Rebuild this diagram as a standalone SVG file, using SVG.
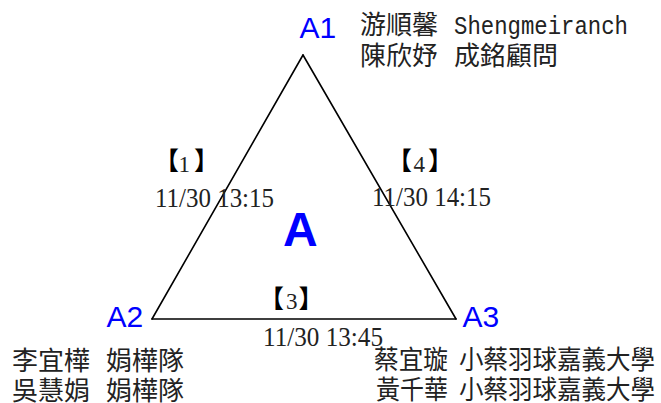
<svg xmlns="http://www.w3.org/2000/svg" width="661" height="403" viewBox="0 0 661 403">
<style>
.lbl{font-family:"Liberation Sans",Arial,sans-serif;font-size:30px;fill:#0000FF}
.big{font-family:"Liberation Sans",Arial,sans-serif;font-size:48px;font-weight:bold;fill:#0000FF}
.cjk{font-family:"Noto Sans CJK TC","Noto Sans CJK SC",sans-serif;font-size:26px;fill:#222}
.mono{font-family:"Liberation Mono","DejaVu Sans Mono",monospace;font-size:26px;fill:#222}
.time{font-family:"Liberation Serif","Times New Roman",serif;font-size:27px;fill:#222}
.brk{font-family:"Noto Sans CJK TC","Noto Sans CJK SC",sans-serif;font-size:25px;font-weight:bold;fill:#000}
.num{font-family:"Liberation Serif","Times New Roman",serif;font-size:23px;fill:#222}
.edge{stroke:#000;stroke-width:1.6;fill:none;stroke-linecap:round}
</style>
<rect width="661" height="403" fill="#fff"/>
<g id="connectors">
<line class="edge" x1="303" y1="55" x2="152" y2="319"/>
<line class="edge" x1="303" y1="55" x2="456" y2="319"/>
<line class="edge" x1="152" y1="319" x2="456" y2="319"/>
</g>
<g id="A1">
<text class="lbl" x="299.5" y="38">A1</text>
<text class="cjk" x="360" y="34">游順馨</text>
<text class="mono" x="454" y="34" textLength="174" lengthAdjust="spacingAndGlyphs">Shengmeiranch</text>
<text class="cjk" x="360" y="65">陳欣妤</text>
<text class="cjk" x="454" y="65">成銘顧問</text>
</g>
<g id="A2">
<text class="lbl" x="106.5" y="327">A2</text>
<text class="cjk" x="12" y="370">李宜樺</text>
<text class="cjk" x="106" y="370">娟樺隊</text>
<text class="cjk" x="12" y="400">吳慧娟</text>
<text class="cjk" x="106" y="400">娟樺隊</text>
</g>
<g id="A3">
<text class="lbl" x="462.5" y="327">A3</text>
<text class="cjk" x="374" y="369" textLength="74" lengthAdjust="spacingAndGlyphs">蔡宜璇</text>
<text class="cjk" x="459" y="369" textLength="196" lengthAdjust="spacingAndGlyphs">小蔡羽球嘉義大學</text>
<text class="cjk" x="376" y="399" textLength="72" lengthAdjust="spacingAndGlyphs">黃千華</text>
<text class="cjk" x="459" y="399" textLength="196" lengthAdjust="spacingAndGlyphs">小蔡羽球嘉義大學</text>
</g>
<g id="center">
<text class="big" x="283" y="246">A</text>
</g>
<g id="match1">
<text class="brk" x="154" y="170">【</text>
<text class="num" x="178.5" y="172">1</text>
<text class="brk" x="194" y="170">】</text>
<text class="time" x="155" y="207" textLength="119" lengthAdjust="spacingAndGlyphs">11/30 13:15</text>
</g>
<g id="match4">
<text class="brk" x="387" y="170">【</text>
<text class="num" x="413.5" y="172">4</text>
<text class="brk" x="428" y="170">】</text>
<text class="time" x="372" y="206" textLength="119" lengthAdjust="spacingAndGlyphs">11/30 14:15</text>
</g>
<g id="match3">
<text class="brk" x="259" y="308">【</text>
<text class="num" x="286" y="309">3</text>
<text class="brk" x="298.5" y="308">】</text>
<text class="time" x="263" y="346" textLength="120" lengthAdjust="spacingAndGlyphs">11/30 13:45</text>
</g>
</svg>
